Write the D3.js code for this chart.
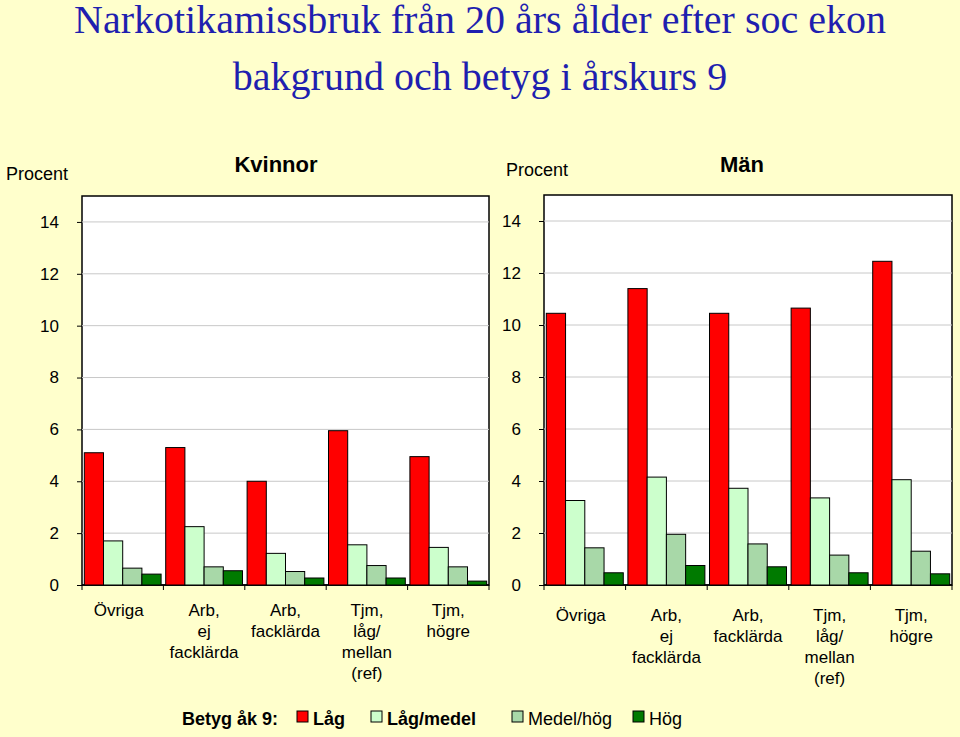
<!DOCTYPE html><html><head><meta charset="utf-8"><script src="https://cdn.jsdelivr.net/npm/d3@7"></script>
<style>body{margin:0;background:#FFFFCC}svg{display:block}</style></head><body><svg width="960" height="737"></svg>
<script>
const categories=[["Övriga"],["Arb,","ej","facklärda"],["Arb,","facklärda"],["Tjm,","låg/","mellan","(ref)"],["Tjm,","högre"]];
const seriesNames=["Låg","Låg/medel","Medel/hög","Hög"];
const colors=["#FF0000","#CCFFCC","#A8D8A8","#007A00"];
const women=[[5.1,1.7,0.65,0.42],[5.3,2.25,0.7,0.55],[4.0,1.22,0.52,0.27],[5.95,1.55,0.75,0.27],[4.95,1.45,0.7,0.15]];
const men=[[10.45,3.25,1.43,0.47],[11.4,4.15,1.95,0.75],[10.45,3.72,1.58,0.7],[10.65,3.35,1.15,0.47],[12.45,4.05,1.3,0.43]];
const yTicks=[0,2,4,6,8,10,12,14];
const svg=d3.select("svg");
svg.append("rect").attr("width",960).attr("height",737).attr("fill","#FFFFCC");
const tf="'Liberation Serif','Times New Roman',serif",af="'Liberation Sans',Arial,sans-serif";
svg.append("text").attr("x",480).attr("y",33).attr("text-anchor","middle").attr("font-family",tf).attr("font-size",40).attr("fill","#1F1FAF").text("Narkotikamissbruk från 20 års ålder efter soc ekon");
svg.append("text").attr("x",480).attr("y",90).attr("text-anchor","middle").attr("font-family",tf).attr("font-size",40).attr("fill","#1F1FAF").text("bakgrund och betyg i årskurs 9");
function panel(data,x0,x1,top,title,titleX,procX,procY,labY){
 const y=d3.scaleLinear().domain([0,15]).range([585,top]);
 const x=d3.scaleBand().domain(d3.range(5)).range([x0,x1]);
 const xi=d3.scaleBand().domain(d3.range(4)).range([0,x.bandwidth()]).paddingInner(0).paddingOuter(0.12);
 const g=svg.append("g");
 g.append("rect").attr("x",x0).attr("y",top).attr("width",x1-x0).attr("height",585-top).attr("fill","#fff").attr("stroke","#000").attr("stroke-width",1.5);
 g.selectAll(".gl").data(yTicks.slice(1)).enter().append("line").attr("x1",x0).attr("x2",x1).attr("y1",d=>y(d)).attr("y2",d=>y(d)).attr("stroke","#c8c8c8").attr("stroke-width",1);
 const ax=g.append("g").attr("transform",`translate(${x0},0)`).call(d3.axisLeft(y).tickValues(yTicks).tickSize(5).tickPadding(18));
 ax.select(".domain").remove();ax.selectAll("text").attr("font-family",af).attr("font-size",17).attr("fill","#000");
 g.append("line").attr("x1",x0).attr("x2",x1).attr("y1",585).attr("y2",585).attr("stroke","#000").attr("stroke-width",1.5);
 g.selectAll(".tk").data(d3.range(6)).enter().append("line").attr("x1",d=>x0+d*x.step()).attr("x2",d=>x0+d*x.step()).attr("y1",585).attr("y2",590).attr("stroke","#000");
 data.forEach((vals,i)=>{
  g.selectAll(null).data(vals).enter().append("rect").attr("x",(d,j)=>x(i)+xi(j)).attr("width",xi.bandwidth()).attr("y",d=>y(d)).attr("height",d=>585-y(d)).attr("fill",(d,j)=>colors[j]).attr("stroke","#000").attr("stroke-width",1);
  const t=g.append("text").attr("text-anchor","middle").attr("font-family",af).attr("font-size",17).attr("fill","#000");
  categories[i].forEach((l,k)=>t.append("tspan").attr("x",x(i)+x.bandwidth()/2+(i===0?-4:0)).attr("y",labY+k*21).text(l));
 });
 svg.append("text").attr("x",titleX).attr("y",172).attr("text-anchor","middle").attr("font-family",af).attr("font-weight","bold").attr("font-size",22).text(title);
 svg.append("text").attr("x",procX).attr("y",procY).attr("font-family",af).attr("font-size",18).text("Procent");
}
panel(women,82,489,196,"Kvinnor",276,6,180,616);
panel(men,544,952,195,"Män",742,506,176,621);
const leg=svg.append("g").attr("font-family",af).attr("font-size",18).attr("font-weight","bold");
leg.append("text").attr("x",182).attr("y",725).text("Betyg åk 9:");
const legX=[297,371,512,633];
seriesNames.forEach((n,i)=>{
 leg.append("rect").attr("x",legX[i]).attr("y",711).attr("width",11).attr("height",11).attr("fill",colors[i]).attr("stroke","#000");
 leg.append("text").attr("x",legX[i]+16).attr("y",725).attr("font-weight",i>=2?"normal":"bold").text(n);
});
</script></body></html>
